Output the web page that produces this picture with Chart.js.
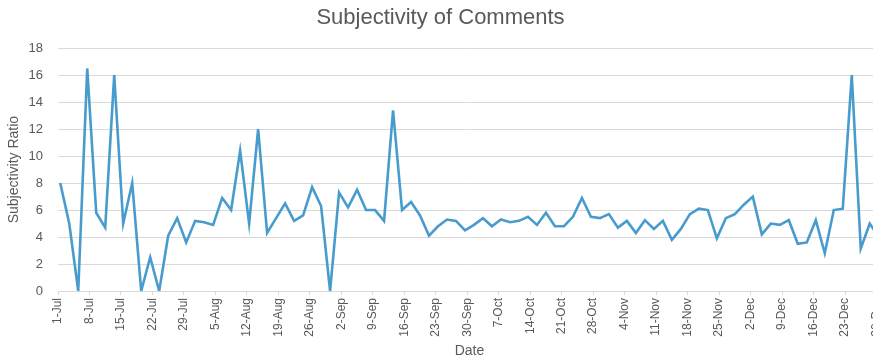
<!DOCTYPE html>
<html>
<head>
<meta charset="utf-8">
<script src="https://cdn.jsdelivr.net/npm/chart.js@4"></script>
<style>
html, body { margin: 0; padding: 0; background: #fff; overflow: hidden; }
#wrap { width: 900px; height: 358px; }
</style>
</head>
<body>
<div id="wrap"><canvas id="subjectivity_chart"></canvas></div>
<script>
// months shown on the axis and how long they are
const monthNames = ["Jul", "Aug", "Sep", "Oct", "Nov", "Dec"];
const monthDays = [31, 31, 30, 31, 30, 31];

const dateLabels = [
    "1-Jul", "3-Jul", "5-Jul", "7-Jul", "9-Jul", "11-Jul", "13-Jul", "15-Jul",
    "17-Jul", "19-Jul", "21-Jul", "23-Jul", "25-Jul", "27-Jul", "29-Jul", "31-Jul",
    "2-Aug", "4-Aug", "6-Aug", "8-Aug", "10-Aug", "12-Aug", "14-Aug", "16-Aug",
    "18-Aug", "20-Aug", "22-Aug", "24-Aug", "26-Aug", "28-Aug", "30-Aug",
    "1-Sep", "3-Sep", "5-Sep", "7-Sep", "9-Sep", "11-Sep", "13-Sep", "15-Sep",
    "17-Sep", "19-Sep", "21-Sep", "23-Sep", "25-Sep", "27-Sep", "29-Sep",
    "1-Oct", "3-Oct", "5-Oct", "7-Oct", "9-Oct", "11-Oct", "13-Oct", "15-Oct",
    "17-Oct", "19-Oct", "21-Oct", "23-Oct", "25-Oct", "27-Oct", "29-Oct", "31-Oct",
    "2-Nov", "4-Nov", "6-Nov", "8-Nov", "10-Nov", "12-Nov", "14-Nov", "16-Nov",
    "18-Nov", "20-Nov", "22-Nov", "24-Nov", "26-Nov", "28-Nov", "30-Nov",
    "2-Dec", "4-Dec", "6-Dec", "8-Dec", "10-Dec", "12-Dec", "14-Dec", "16-Dec",
    "18-Dec", "20-Dec", "22-Dec", "24-Dec", "26-Dec", "28-Dec", "30-Dec"
];

const subjectivity = [
    8.0, 5.0, 0, 16.5, 5.8, 4.7, 16.0, 5.0, 8.0, 0, 2.5, 0, 4.1, 5.4, 3.6, 5.2,
    5.1, 4.9, 6.9, 6.0, 10.4, 5.0, 12.0, 4.3, 5.4, 6.5, 5.2, 5.6, 7.7, 6.3, 0,
    7.3, 6.2, 7.5, 6.0, 6.0, 5.2, 13.4, 6.0, 6.6, 5.6, 4.1, 4.8, 5.3, 5.2, 4.5,
    4.9, 5.4, 4.8, 5.3, 5.1, 5.2, 5.5, 4.9, 5.8, 4.8, 4.8, 5.5, 6.9, 5.5, 5.4, 5.7,
    4.7, 5.2, 4.3, 5.25, 4.6, 5.2, 3.8, 4.6, 5.7, 6.1, 6.0, 3.9, 5.4, 5.7, 6.4,
    7.0, 4.2, 5.0, 4.9, 5.25, 3.5, 3.6, 5.25, 2.8, 6.0, 6.1, 16.0, 3.15, 5.0, 4.0
];

const yTicks = [0, 2, 4, 6, 8, 10, 12, 14, 16, 18];
const tickEveryDays = 7;
const lastDay = 183;

function labelToDay(label) {
    const [d, m] = label.split("-");
    let day = 0;
    for (let i = 0; i < monthNames.indexOf(m); i++) day += monthDays[i];
    return day + parseInt(d, 10) - 1;
}

function dayToLabel(day) {
    let m = 0;
    while (m < monthDays.length - 1 && day >= monthDays[m]) {
        day -= monthDays[m];
        m++;
    }
    return (day + 1) + "-" + monthNames[m];
}

// points sit in the middle of their day, like a date axis
const points = dateLabels.map((lbl, i) => ({ x: labelToDay(lbl) + 0.5, y: subjectivity[i] }));

const fontFamily = "'Liberation Sans', Arial, sans-serif";
const textColor = "#595959";
const gridColor = "#d9d9d9";

const ctx = document.getElementById("subjectivity_chart").getContext("2d");

const subjectivityChart = new Chart(ctx, {
    type: 'line',
    data: {
        datasets: [{
            label: "Subjectivity Ratio",
            data: points,
            borderColor: "#479ccd",
            backgroundColor: "#479ccd",
            borderWidth: 2.6,
            pointRadius: 0,
            tension: 0,
            fill: false
        }]
    },
    options: {
        responsive: true,
        maintainAspectRatio: false,
        animation: false,
        layout: { padding: { left: 0, right: 19, top: 0, bottom: 0 } },
        plugins: {
            legend: { display: false },
            tooltip: { enabled: false },
            title: {
                display: true,
                text: "Subjectivity of Comments",
                color: textColor,
                font: { family: fontFamily, size: 22, weight: 'normal', lineHeight: 1.1 },
                padding: { top: 6, bottom: 18 }
            }
        },
        scales: {
            x: {
                type: 'linear',
                min: 0,
                max: lastDay,
                afterFit: (scale) => { scale.height = 67; },
                grid: { drawOnChartArea: false, drawTicks: true, tickLength: 4, color: gridColor },
                border: { color: gridColor },
                ticks: {
                    stepSize: tickEveryDays,
                    includeBounds: false,
                    autoSkip: false,
                    minRotation: 90,
                    maxRotation: 90,
                    padding: 3,
                    color: textColor,
                    font: { family: fontFamily, size: 12 },
                    callback: (v) => dayToLabel(v)
                },
                title: {
                    display: true,
                    text: "Date",
                    color: textColor,
                    font: { family: fontFamily, size: 14, lineHeight: 1 },
                    padding: { top: 0, bottom: 0 }
                }
            },
            y: {
                min: 0,
                max: 18,
                afterFit: (scale) => { scale.width = 58; },
                afterBuildTicks: (scale) => { scale.ticks = yTicks.map(v => ({ value: v })); },
                grid: { color: gridColor, drawTicks: false },
                border: { display: false },
                ticks: {
                    padding: 15,
                    color: textColor,
                    font: { family: fontFamily, size: 13 }
                },
                title: {
                    display: true,
                    text: "Subjectivity Ratio",
                    color: textColor,
                    font: { family: fontFamily, size: 14 },
                    padding: { top: 6, bottom: 0 }
                }
            }
        }
    }
});
</script>
</body>
</html>
